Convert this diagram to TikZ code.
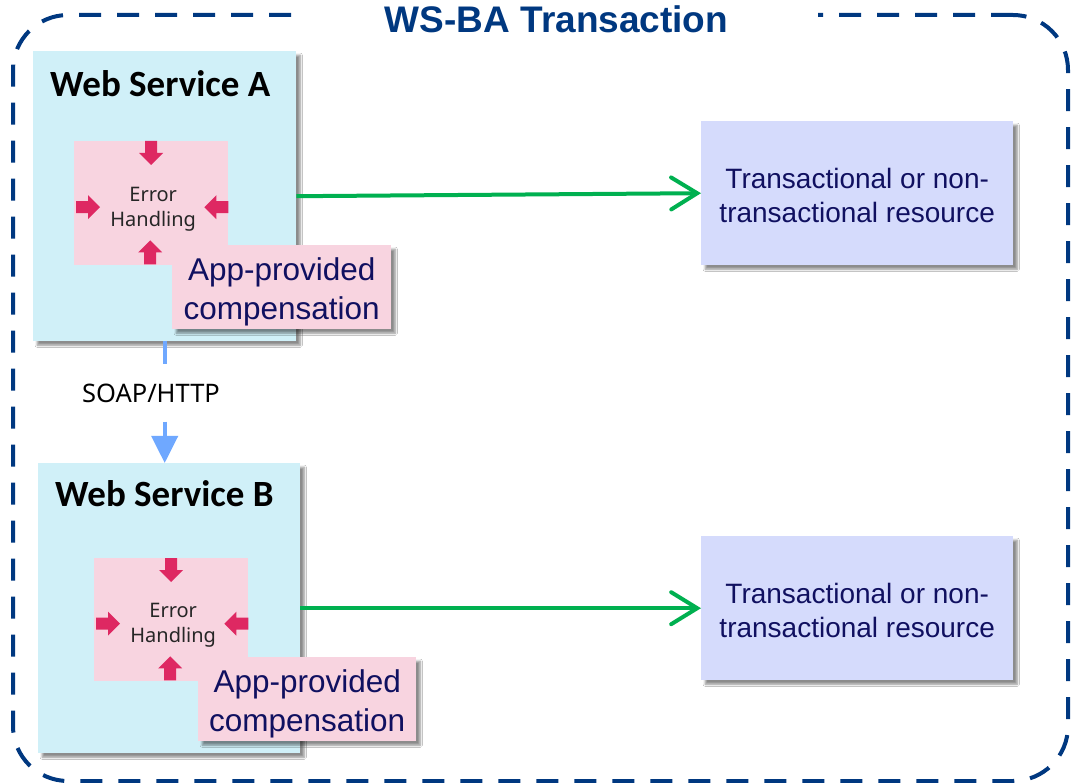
\documentclass[tikz,border=0pt]{standalone}
\usepackage{fontspec}
\setmainfont{Liberation Sans}
\newfontfamily\calibri{Carlito}
\newfontfamily\plex{Noto Sans}
\usetikzlibrary{arrows.meta,shadows.blur}
\definecolor{framec}{RGB}{0,56,128}
\definecolor{wsfill}{RGB}{208,240,248}
\definecolor{pinkfill}{RGB}{248,212,224}
\definecolor{resfill}{RGB}{213,219,252}
\definecolor{greenc}{RGB}{0,176,80}
\definecolor{bluec}{RGB}{111,168,255}
\definecolor{magc}{RGB}{222,40,98}
\definecolor{navy}{RGB}{16,16,96}
\tikzset{
  blockarr/.pic={\fill[magc] (0,-6) -- (12,-6) -- (12,-12) -- (24,0) -- (12,12) -- (12,6) -- (0,6) -- cycle;}
}
\begin{document}
\begin{tikzpicture}[x=1pt,y=-1pt,
  box/.style={rectangle, inner sep=0pt, anchor=north west},
  shadowed/.style={blur shadow={shadow xshift=4pt,shadow yshift=-4pt,shadow blur steps=6,shadow opacity=45}},
  wsbox/.style={box,fill=wsfill,shadowed},
  errbox/.style={box,fill=pinkfill},
  compbox/.style={box,fill=pinkfill,shadowed},
  comptext/.style={inner sep=0pt,font=\fontsize{31.5}{39}\selectfont,text=navy,align=center},
  resbox/.style={box,fill=resfill,shadowed},
  restext/.style={inner sep=0pt,font=\fontsize{28}{34}\selectfont,text=navy,align=center},
  wstitle/.style={anchor=base west,inner sep=0pt,font=\calibri\bfseries\fontsize{37}{40}\selectfont},
  errtext/.style={inner sep=0pt,align=center,font=\plex\fontsize{20}{25}\selectfont,text=black!85},
  flow/.style={draw=greenc,line width=4pt,-{Straight Barb[length=26pt,width=32pt,line cap=round]}},
  soapline/.style={draw=bluec,line width=4pt},
]
\useasboundingbox (0,0) rectangle (1074,783);
\fill[white] (0,0) rectangle (1074,783);

% frame and title
\node[draw=framec, line width=4pt, dash pattern=on 22pt off 16pt, rounded corners=55pt,
      minimum width=1055pt, minimum height=766pt, inner sep=0pt] (frame) at (540.5,398) {};
\node[fill=white, text=framec, inner xsep=90pt, inner ysep=3pt,
      font=\bfseries\fontsize{37}{40}\selectfont] (title) at ([xshift=16pt,yshift=-6pt]frame.north) {WS-BA Transaction};

% Web service A
\node[wsbox, minimum width=263pt, minimum height=290pt] (wsA) at (33,51) {};
\node[wstitle] (wsAt) at (50,97) {Web Service A};
\node[errbox, minimum width=154pt, minimum height=124pt] (errA) at (74,141) {};
\pic[rotate=-90] at (errA.north) {blockarr};
\pic at ([xshift=2pt,yshift=-4pt]errA.west) {blockarr};
\pic[rotate=180] at ([yshift=-4pt]errA.east) {blockarr};
\pic[rotate=90] at ([xshift=-1pt,yshift=1pt]errA.south) {blockarr};
\node[errtext] (errAt) at ([xshift=2pt,yshift=-6pt]errA.center) {Error\\Handling};
\node[compbox, minimum width=219pt, minimum height=84pt] (compA) at (172,245) {};
\node[comptext] (compAt) at ([yshift=-4.5pt]compA.center) {App-provided\\compensation};

% Web service B
\node[wsbox, minimum width=262pt, minimum height=290pt] (wsB) at (38,463) {};
\node[wstitle] (wsBt) at (55,507) {Web Service B};
\node[errbox, minimum width=154pt, minimum height=123pt] (errB) at (94,558) {};
\pic[rotate=-90] at (errB.north) {blockarr};
\pic at ([xshift=2pt,yshift=-4pt]errB.west) {blockarr};
\pic[rotate=180] at ([yshift=-4pt]errB.east) {blockarr};
\pic[rotate=90] at ([xshift=-1pt,yshift=1pt]errB.south) {blockarr};
\node[errtext] (errBt) at ([xshift=2pt,yshift=-6pt]errB.center) {Error\\Handling};
\node[compbox, minimum width=218pt, minimum height=84pt] (compB) at (198,657) {};
\node[comptext] (compBt) at ([yshift=-4.5pt]compB.center) {App-provided\\compensation};

% resources
\node[resbox, minimum width=312pt, minimum height=144pt] (resA) at (701,121) {};
\node[restext] (resAt) at ([yshift=-2pt]resA.center) {Transactional or non-\\transactional resource};
\node[resbox, minimum width=312pt, minimum height=144pt] (resB) at (701,536) {};
\node[restext] (resBt) at ([yshift=-2pt]resB.center) {Transactional or non-\\transactional resource};

% connectors
\draw[flow] (wsA.east) -- (resA.west);
\draw[flow] (wsB.east) -- (resB.west);

\node[inner sep=0pt, minimum height=57pt, font=\plex\fontsize{25.5}{28}\selectfont] (soap) at (151,393) {SOAP/HTTP};
\draw[soapline] (wsA.south) -- (wsA.south |- soap.north);
\draw[soapline,-{Triangle[length=27pt,width=26pt]}] (wsA.south |- soap.south) -- (wsA.south |- wsB.north);
\end{tikzpicture}
\end{document}
